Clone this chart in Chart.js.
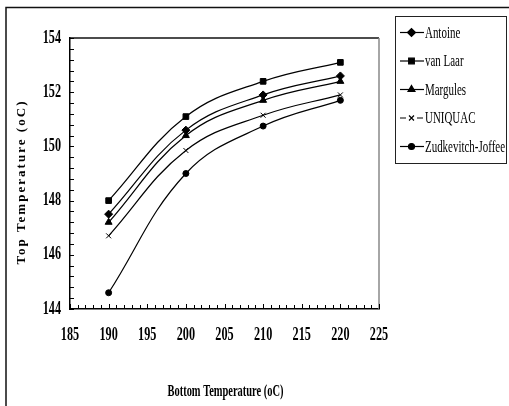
<!DOCTYPE html>
<html>
<head>
<meta charset="utf-8">
<script src="https://cdn.jsdelivr.net/npm/chart.js@4.4.0/dist/chart.umd.min.js"></script>
<style>body{margin:0;background:#fff}</style>
</head>
<body>
<canvas id="myChart" width="509" height="406"></canvas>
<script>
// values
let bottomTemps = [190, 200, 210, 220];
let antoine  = [147.5, 150.6, 151.9, 152.6];
let vanLaar  = [148.0, 151.1, 152.4, 153.1];
let margules = [147.2, 150.4, 151.7, 152.4];
let uniquac  = [146.7, 149.85, 151.15, 151.9];
let zudJof   = [144.6, 149.0, 150.75, 151.7];
let seriesNames = ["Antoine", "van Laar", "Margules", "UNIQUAC", "Zudkevitch-Joffee"];
let markers = ["rectRot", "rect", "triangle", "crossRot", "circle"];
let xTicks = [185, 190, 195, 200, 205, 210, 215, 220, 225];
let yTicks = [144, 146, 148, 150, 152, 154];

let allSeries = [antoine, vanLaar, margules, uniquac, zudJof];

let squish = (ctx, text, x, y, font, sx, align) => {
  ctx.save();
  ctx.font = font;
  ctx.translate(x, y);
  ctx.scale(sx, 1);
  ctx.textAlign = align;
  ctx.textBaseline = 'middle';
  ctx.fillStyle = '#000';
  ctx.fillText(text, 0, 0);
  ctx.restore();
}

let widthOf = (ctx, text, font) => {
  ctx.save();
  ctx.font = font;
  let w = ctx.measureText(text).width;
  ctx.restore();
  return w;
}

let extras = {
  id: 'extras',
  afterDraw(chart) {
    let ctx = chart.ctx;
    let area = chart.chartArea;
    let xs = chart.scales.x, ys = chart.scales.y;

    // outer frame (only top and left show)
    ctx.save();
    ctx.strokeStyle = '#111';
    ctx.lineWidth = 1.5;
    ctx.beginPath();
    ctx.moveTo(6, 406);
    ctx.lineTo(6, 7.5);
    ctx.lineTo(509, 7.5);
    ctx.stroke();

    // plot box top + right
    ctx.lineWidth = 1.5;
    ctx.beginPath();
    ctx.moveTo(area.left, area.top);
    ctx.lineTo(area.right, area.top);
    ctx.stroke();
    ctx.strokeStyle = '#888';
    ctx.beginPath();
    ctx.moveTo(area.right, area.top);
    ctx.lineTo(area.right, area.bottom);
    ctx.stroke();

    // inside ticks
    ctx.strokeStyle = '#000';
    ctx.lineWidth = 1;
    for (let v = 185; v <= 225; v++) {
      let px = Math.round(xs.getPixelForValue(v)) + 0.5;
      let len = (v % 5 === 0) ? 5 : 4;
      ctx.beginPath();
      ctx.moveTo(px, area.bottom);
      ctx.lineTo(px, area.bottom - len);
      ctx.stroke();
    }
    for (let i = 0; i <= 25; i++) {
      let v = 144 + i * 0.4;
      let py = Math.round(ys.getPixelForValue(v)) + 0.5;
      ctx.beginPath();
      ctx.moveTo(area.left - 1, py);
      ctx.lineTo(area.left + 4, py);
      ctx.stroke();
    }
    ctx.restore();

    // tick labels, condensed bold serif
    let tickFont = 'bold 18px "Liberation Serif"';
    let sx = 18.3 / widthOf(ctx, "154", tickFont);
    yTicks.forEach(v => squish(ctx, String(v), area.left - 9, ys.getPixelForValue(v), tickFont, sx, 'right'));
    xTicks.forEach(v => squish(ctx, String(v), xs.getPixelForValue(v), area.bottom + 26, tickFont, sx, 'center'));

    // x title
    let xtFont = 'bold 17px "Liberation Serif"';
    let xtText = 'Bottom Temperature (oC)';
    squish(ctx, xtText, (area.left + area.right) / 2 + 1, 392, xtFont, 116 / widthOf(ctx, xtText, xtFont), 'center');

    // y title, spaced out
    let ytFont = 'bold 13px "Liberation Serif"';
    let ytText = 'Top Temperature (oC)';
    ctx.save();
    ctx.font = ytFont;
    let w0 = ctx.measureText(ytText).width;
    ctx.letterSpacing = ((163 - w0) / (ytText.length - 1)).toFixed(2) + 'px';
    ctx.translate(22, 182);
    ctx.rotate(-Math.PI / 2);
    ctx.textAlign = 'center';
    ctx.textBaseline = 'middle';
    ctx.fillStyle = '#000';
    ctx.fillText(ytText, 0, 0);
    ctx.restore();

    // legend box
    ctx.save();
    ctx.strokeStyle = '#222';
    ctx.lineWidth = 1;
    ctx.strokeRect(395.5, 16.5, 111, 147);
    let lgFont = '17px "Liberation Serif"';
    let lsx = 80 / widthOf(ctx, 'Zudkevitch-Joffee', lgFont);
    chart.data.datasets.forEach((ds, i) => {
      let cy = 32.5 + i * 28.5;
      ctx.strokeStyle = '#000';
      ctx.fillStyle = '#000';
      ctx.lineWidth = 1.2;
      ctx.beginPath();
      if (ds.pointStyle === 'crossRot') {
        ctx.moveTo(400, cy); ctx.lineTo(406, cy);
        ctx.moveTo(417, cy); ctx.lineTo(423, cy);
      } else {
        ctx.moveTo(400, cy); ctx.lineTo(424, cy);
      }
      ctx.stroke();
      Chart.helpers.drawPoint(ctx, {
        pointStyle: ds.pointStyle, radius: ds.pointRadius, rotation: 0, borderWidth: 1
      }, 411.5, cy);
      squish(ctx, ds.label, 425, cy + 1, lgFont, lsx, 'left');
    });
    ctx.restore();
  }
};

new Chart(document.getElementById("myChart"), {
  type: 'line',
  data: {
    datasets: allSeries.map((vals, i) => ({
      label: seriesNames[i],
      data: vals.map((v, j) => ({x: bottomTemps[j], y: v})),
      borderColor: '#000',
      backgroundColor: '#000',
      borderWidth: 1.2,
      pointStyle: markers[i],
      pointRadius: markers[i] === 'circle' ? 3 : (markers[i] === 'crossRot' ? 3.5 : 4),
      pointBorderWidth: 1,
      tension: 0.4,
      fill: false
    }))
  },
  options: {
    responsive: false,
    animation: false,
    devicePixelRatio: 1,
    layout: { padding: { left: 62, top: 38, right: 130, bottom: 89 } },
    plugins: { legend: { display: false }, tooltip: { enabled: false } },
    scales: {
      x: {
        type: 'linear', min: 185, max: 225,
        ticks: { display: false },
        grid: { display: false },
        border: { display: true, color: '#000', width: 1.5 }
      },
      y: {
        type: 'linear', min: 144, max: 154,
        ticks: { display: false },
        grid: { display: false },
        border: { display: true, color: '#000', width: 1.5 }
      }
    }
  },
  plugins: [extras]
});
</script>
</body>
</html>
